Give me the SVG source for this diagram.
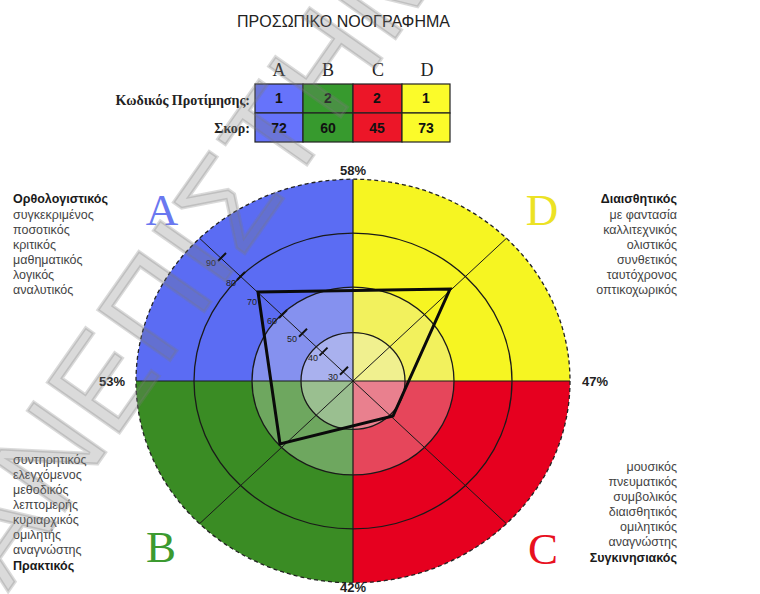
<svg xmlns="http://www.w3.org/2000/svg" width="760" height="594" viewBox="0 0 760 594">
<style>
.sans{font-family:"Liberation Sans",Arial,sans-serif}
.serif{font-family:"Liberation Serif","Times New Roman",serif}
.ring{fill:none;stroke:#1a1a1a;stroke-width:1.3}
.ax{stroke:#1a1a1a;stroke-width:1.2}
.lst{font-family:"Liberation Sans",Arial,sans-serif;font-size:12.5px;fill:#444}
.lstb{font-family:"Liberation Sans",Arial,sans-serif;font-size:12.5px;fill:#1a1a1a;font-weight:bold}
.cell{stroke:#222;stroke-width:1.2}
.num{font-family:"Liberation Sans",Arial,sans-serif;font-size:14px;font-weight:bold;fill:#111;text-anchor:middle}
.hdr{font-family:"Liberation Serif","Times New Roman",serif;font-size:18px;fill:#222;text-anchor:middle}
.pct{font-family:"Liberation Sans",Arial,sans-serif;font-size:13px;font-weight:bold;fill:#222;text-anchor:middle}
.tk{stroke:#111;stroke-width:2}
.tl{font-family:"Liberation Sans",Arial,sans-serif;font-size:9px;fill:#222;text-anchor:middle}
.big{font-family:"Liberation Serif","Times New Roman",serif;font-size:45px;text-anchor:middle}
</style>
<rect width="760" height="594" fill="#fff"/>
<text class="sans" x="343.5" y="27" font-size="16" fill="#222" text-anchor="middle">ΠΡΟΣΩΠΙΚΟ ΝΟΟΓΡΑΦΗΜΑ</text>
<g id="table">
<text class="hdr" x="279" y="76">A</text>
<text class="hdr" x="328" y="76">B</text>
<text class="hdr" x="378" y="76">C</text>
<text class="hdr" x="427" y="76">D</text>
<text class="serif" x="250" y="105" font-size="14" font-weight="bold" fill="#222" text-anchor="end">Κωδικός Προτίμησης:</text>
<text class="serif" x="250" y="133" font-size="14" font-weight="bold" fill="#222" text-anchor="end">Σκορ:</text>
<rect class="cell" x="255" y="84" width="48" height="29" fill="#6673fb"/>
<rect class="cell" x="303" y="84" width="50" height="29" fill="#379a2e"/>
<rect class="cell" x="353" y="84" width="49" height="29" fill="#ec1628"/>
<rect class="cell" x="402" y="84" width="48" height="29" fill="#fbfb2a"/>
<rect class="cell" x="255" y="113" width="48" height="29" fill="#6673fb"/>
<rect class="cell" x="303" y="113" width="50" height="29" fill="#379a2e"/>
<rect class="cell" x="353" y="113" width="49" height="29" fill="#ec1628"/>
<rect class="cell" x="402" y="113" width="48" height="29" fill="#fbfb2a"/>
<text class="num" x="279" y="103">1</text>
<text class="num" x="328" y="103">2</text>
<text class="num" x="377" y="103">2</text>
<text class="num" x="426" y="103">1</text>
<text class="num" x="279" y="133">72</text>
<text class="num" x="328" y="133">60</text>
<text class="num" x="377" y="133">45</text>
<text class="num" x="426" y="133">73</text>
</g>
<g id="chart" transform="translate(353,381) scale(1,0.93)">
<path id="qA" d="M0,0 L-217,0 A217,217 0 0 1 0,-217 Z" fill="#5b6cf3"/>
<path id="qD" d="M0,0 L0,-217 A217,217 0 0 1 217,0 Z" fill="#f6f522"/>
<path id="qC" d="M0,0 L217,0 A217,217 0 0 1 0,217 Z" fill="#e6001f"/>
<path id="qB" d="M0,0 L0,217 A217,217 0 0 1 -217,0 Z" fill="#3a8c24"/>
<circle r="101" fill="#e8e8e8" fill-opacity="0.3"/>
<circle r="52" fill="#eeeeee" fill-opacity="0.35"/>
<circle class="ring" r="52" vector-effect="non-scaling-stroke"/>
<circle class="ring" r="101" vector-effect="non-scaling-stroke"/>
<circle class="ring" r="159" vector-effect="non-scaling-stroke"/>
<line class="ax" x1="-217" y1="0" x2="217" y2="0" vector-effect="non-scaling-stroke"/>
<line class="ax" x1="0" y1="-217" x2="0" y2="217" vector-effect="non-scaling-stroke"/>
<line x1="-153.4" y1="-153.4" x2="153.4" y2="153.4" stroke="#1a1a1a" stroke-width="1" vector-effect="non-scaling-stroke"/>
<line x1="-153.4" y1="153.4" x2="153.4" y2="-153.4" stroke="#1a1a1a" stroke-width="1" vector-effect="non-scaling-stroke"/>
<circle r="217" fill="none" stroke="#222" stroke-width="1.3" stroke-dasharray="4 3" vector-effect="non-scaling-stroke"/>
</g>
<g id="ticks">
<line class="tk" x1="340" y1="374.7" x2="348" y2="366.7"/>
<line class="tk" x1="319.5" y1="355.6" x2="327.5" y2="347.6"/>
<line class="tk" x1="299" y1="336.8" x2="307" y2="328.8"/>
<line class="tk" x1="279" y1="318" x2="287" y2="310"/>
<line class="tk" x1="237" y1="280" x2="245" y2="272"/>
<line class="tk" x1="218" y1="261" x2="226" y2="253"/>
<text class="tl" x="333" y="380">30</text>
<text class="tl" x="313" y="361">40</text>
<text class="tl" x="292" y="342">50</text>
<text class="tl" x="272" y="324">60</text>
<text class="tl" x="252" y="305">70</text>
<text class="tl" x="231" y="286">80</text>
<text class="tl" x="211" y="266">90</text>
</g>
<g id="connectors">
<polygon points="258,292 450,289 393,416 280,444" fill="none" stroke="#0a0a0a" stroke-width="3" stroke-linejoin="miter"/>
</g>
<g id="percents">
<text class="pct" x="353" y="175">58%</text>
<text class="pct" x="112" y="386">53%</text>
<text class="pct" x="595" y="386">47%</text>
<text class="pct" x="353" y="592">42%</text>
</g>
<g id="letters">
<text class="big" x="162" y="225" fill="#6a78f0">A</text>
<text class="big" x="542" y="225" fill="#ece224">D</text>
<text class="big" x="161" y="562" fill="#3c9a30">B</text>
<text class="big" x="543" y="564" fill="#e8101e">C</text>
</g>
<g id="nodeA">
<text class="lstb" x="13" y="203">Ορθολογιστικός</text>
<text class="lst" x="13" y="219">συγκεκριμένος</text>
<text class="lst" x="13" y="234">ποσοτικός</text>
<text class="lst" x="13" y="249">κριτικός</text>
<text class="lst" x="13" y="264">μαθηματικός</text>
<text class="lst" x="13" y="279">λογικός</text>
<text class="lst" x="13" y="294">αναλυτικός</text>
</g>
<g id="nodeD" text-anchor="end">
<text class="lstb" x="677" y="203">Διαισθητικός</text>
<text class="lst" x="677" y="219">με φαντασία</text>
<text class="lst" x="677" y="234">καλλιτεχνικός</text>
<text class="lst" x="677" y="249">ολιστικός</text>
<text class="lst" x="677" y="264">συνθετικός</text>
<text class="lst" x="677" y="279">ταυτόχρονος</text>
<text class="lst" x="677" y="294">οπτικοχωρικός</text>
</g>
<g id="nodeB">
<text class="lst" x="13" y="464">συντηρητικός</text>
<text class="lst" x="13" y="479">ελεγχόμενος</text>
<text class="lst" x="13" y="494">μεθοδικός</text>
<text class="lst" x="13" y="509">λεπτομερής</text>
<text class="lst" x="13" y="524">κυριαρχικός</text>
<text class="lst" x="13" y="539">ομιλητής</text>
<text class="lst" x="13" y="554">αναγνώστης</text>
<text class="lstb" x="13" y="570">Πρακτικός</text>
</g>
<g id="nodeC" text-anchor="end">
<text class="lst" x="677" y="471">μουσικός</text>
<text class="lst" x="677" y="486">πνευματικός</text>
<text class="lst" x="677" y="501">συμβολικός</text>
<text class="lst" x="677" y="516">διαισθητικός</text>
<text class="lst" x="677" y="531">ομιλητικός</text>
<text class="lst" x="677" y="546">αναγνώστης</text>
<text class="lstb" x="677" y="562">Συγκινησιακός</text>
</g>
<g id="watermark">
<text class="sans" transform="translate(8,592) rotate(-55)" x="0" y="0" font-size="128" fill="#7a7a7a" fill-opacity="0.28" stroke="#7a7a7a" stroke-opacity="0.28" stroke-width="3" letter-spacing="3">ΑΝΕΠΙΣΤΗΜΙΟ</text>
</g>
</svg>
